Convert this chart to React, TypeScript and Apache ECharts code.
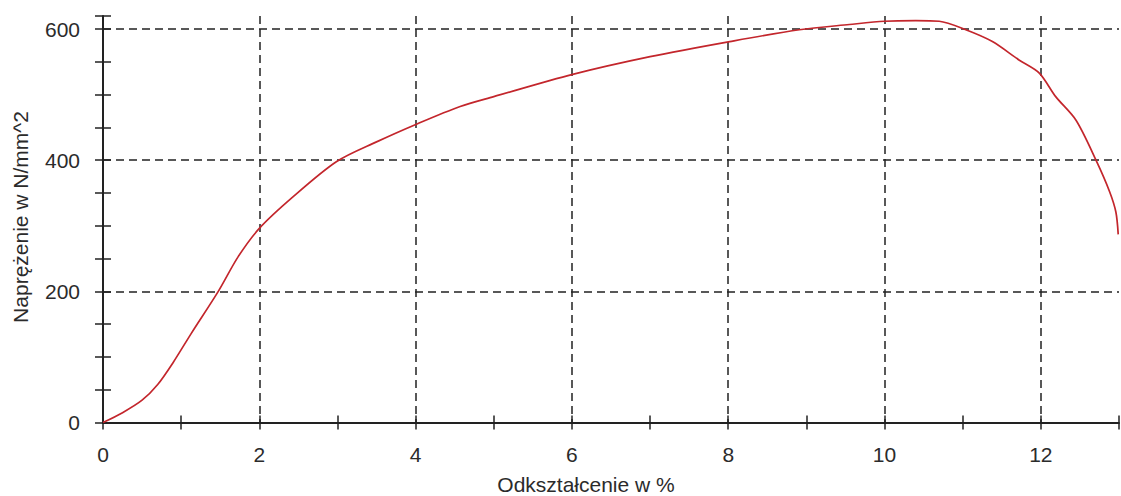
import React, { useEffect, useRef } from "react";
import * as echarts from "echarts";

const strain = [0, 0.25, 0.5, 0.7, 0.9, 1.13, 1.475, 1.73, 2.0, 2.43, 2.99, 3.5, 4.01, 4.57, 5.0, 6.01, 7.0, 8.02, 8.91, 9.55, 10.0, 10.4, 10.7, 11.04, 11.38, 11.72, 11.98, 12.19, 12.45, 12.71, 12.88, 12.96, 12.99];
const stress = [0, 15, 34, 58, 92, 136, 200, 253, 296, 344, 398, 428, 455, 482, 497, 531, 558, 581, 599, 607, 612, 613, 612, 599, 581, 553, 533, 497, 461, 399, 352, 321, 287];
const xTicks = [0, 2, 4, 6, 8, 10, 12];
const yTicks = [0, 200, 400, 600];
const xName = "Odkształcenie w %";
const yName = "Naprężenie w N/mm^2";

export default function App() {
  const ref = useRef<HTMLDivElement>(null);
  useEffect(() => {
    if (!ref.current) return;
    const chart = echarts.init(ref.current, undefined, { renderer: "svg" });
    const font = "Liberation Sans, Arial, sans-serif";
    const axisColor = "#222";
    const gridLine = { show: true, showMaxLine: false, lineStyle: { color: "#222", type: [8, 5], width: 1.5 } };
    chart.setOption({
      animation: false,
      backgroundColor: "#fff",
      grid: { left: 103, right: 2, top: 16, bottom: 73.5, containLabel: false },
      xAxis: [
        {
          type: "value", min: 0, max: 13, interval: 2, position: "bottom",
          axisLine: { show: true, onZero: false, lineStyle: { color: axisColor, width: 2 } },
          axisTick: { show: true, inside: false, length: 7, lineStyle: { color: axisColor, width: 1.5 } },
          minorTick: { show: true, splitNumber: 2, length: 7, lineStyle: { color: axisColor, width: 1.5 } },
          axisLabel: {
            margin: 21, color: "#2b2b2b", fontSize: 21, fontFamily: font,
            formatter: (v: number) => (xTicks.includes(v) ? String(v) : ""),
            showMaxLabel: false,
          },
          splitLine: gridLine,
        },
        {
          type: "value", min: 0, max: 13, interval: 2, position: "bottom", offset: 0,
          axisLine: { show: false },
          axisTick: { show: true, inside: true, length: 7, lineStyle: { color: axisColor, width: 1.5 } },
          minorTick: { show: true, splitNumber: 2, length: 7, lineStyle: { color: axisColor, width: 1.5 } },
          axisLabel: { show: false },
          splitLine: { show: false },
        },
      ],
      yAxis: [
        {
          type: "value", min: 0, max: 620, interval: 200, position: "left",
          axisLine: { show: true, onZero: false, lineStyle: { color: axisColor, width: 2 } },
          axisTick: { show: true, inside: false, length: 8, lineStyle: { color: axisColor, width: 1.5 } },
          minorTick: { show: true, splitNumber: 4, length: 8, lineStyle: { color: axisColor, width: 1.5 } },
          axisLabel: {
            margin: 23, color: "#2b2b2b", fontSize: 21, fontFamily: font,
            formatter: (v: number) => (yTicks.includes(v) ? String(v) : ""),
            showMaxLabel: false,
          },
          splitLine: gridLine,
        },
        {
          type: "value", min: 0, max: 620, interval: 200, position: "left", offset: 0,
          axisLine: { show: false },
          axisTick: { show: true, inside: true, length: 8, lineStyle: { color: axisColor, width: 1.5 } },
          minorTick: { show: true, splitNumber: 4, length: 8, lineStyle: { color: axisColor, width: 1.5 } },
          axisLabel: { show: false },
          splitLine: { show: false },
        },
      ],
      graphic: [
        {
          type: "text", x: 586, y: 484,
          style: { text: xName, fontSize: 21, fontFamily: font, fill: "#2b2b2b", align: "center", verticalAlign: "middle" },
        },
        {
          type: "text", x: 20, y: 217, rotation: Math.PI / 2,
          style: { text: yName, fontSize: 21, fontFamily: font, fill: "#2b2b2b", align: "center", verticalAlign: "middle" },
        },
      ],
      series: [
        {
          type: "line",
          xAxisIndex: 0, yAxisIndex: 0,
          data: strain.map((s, i) => [s, stress[i]]),
          smooth: 0.3,
          showSymbol: false,
          symbol: "none",
          lineStyle: { color: "#c3262c", width: 1.7 },
          clip: true,
        },
      ],
    });
    return () => chart.dispose();
  }, []);
  return <div ref={ref} style={{ position: "fixed", left: 0, top: 0, width: 1121, height: 496 }} />;
}
